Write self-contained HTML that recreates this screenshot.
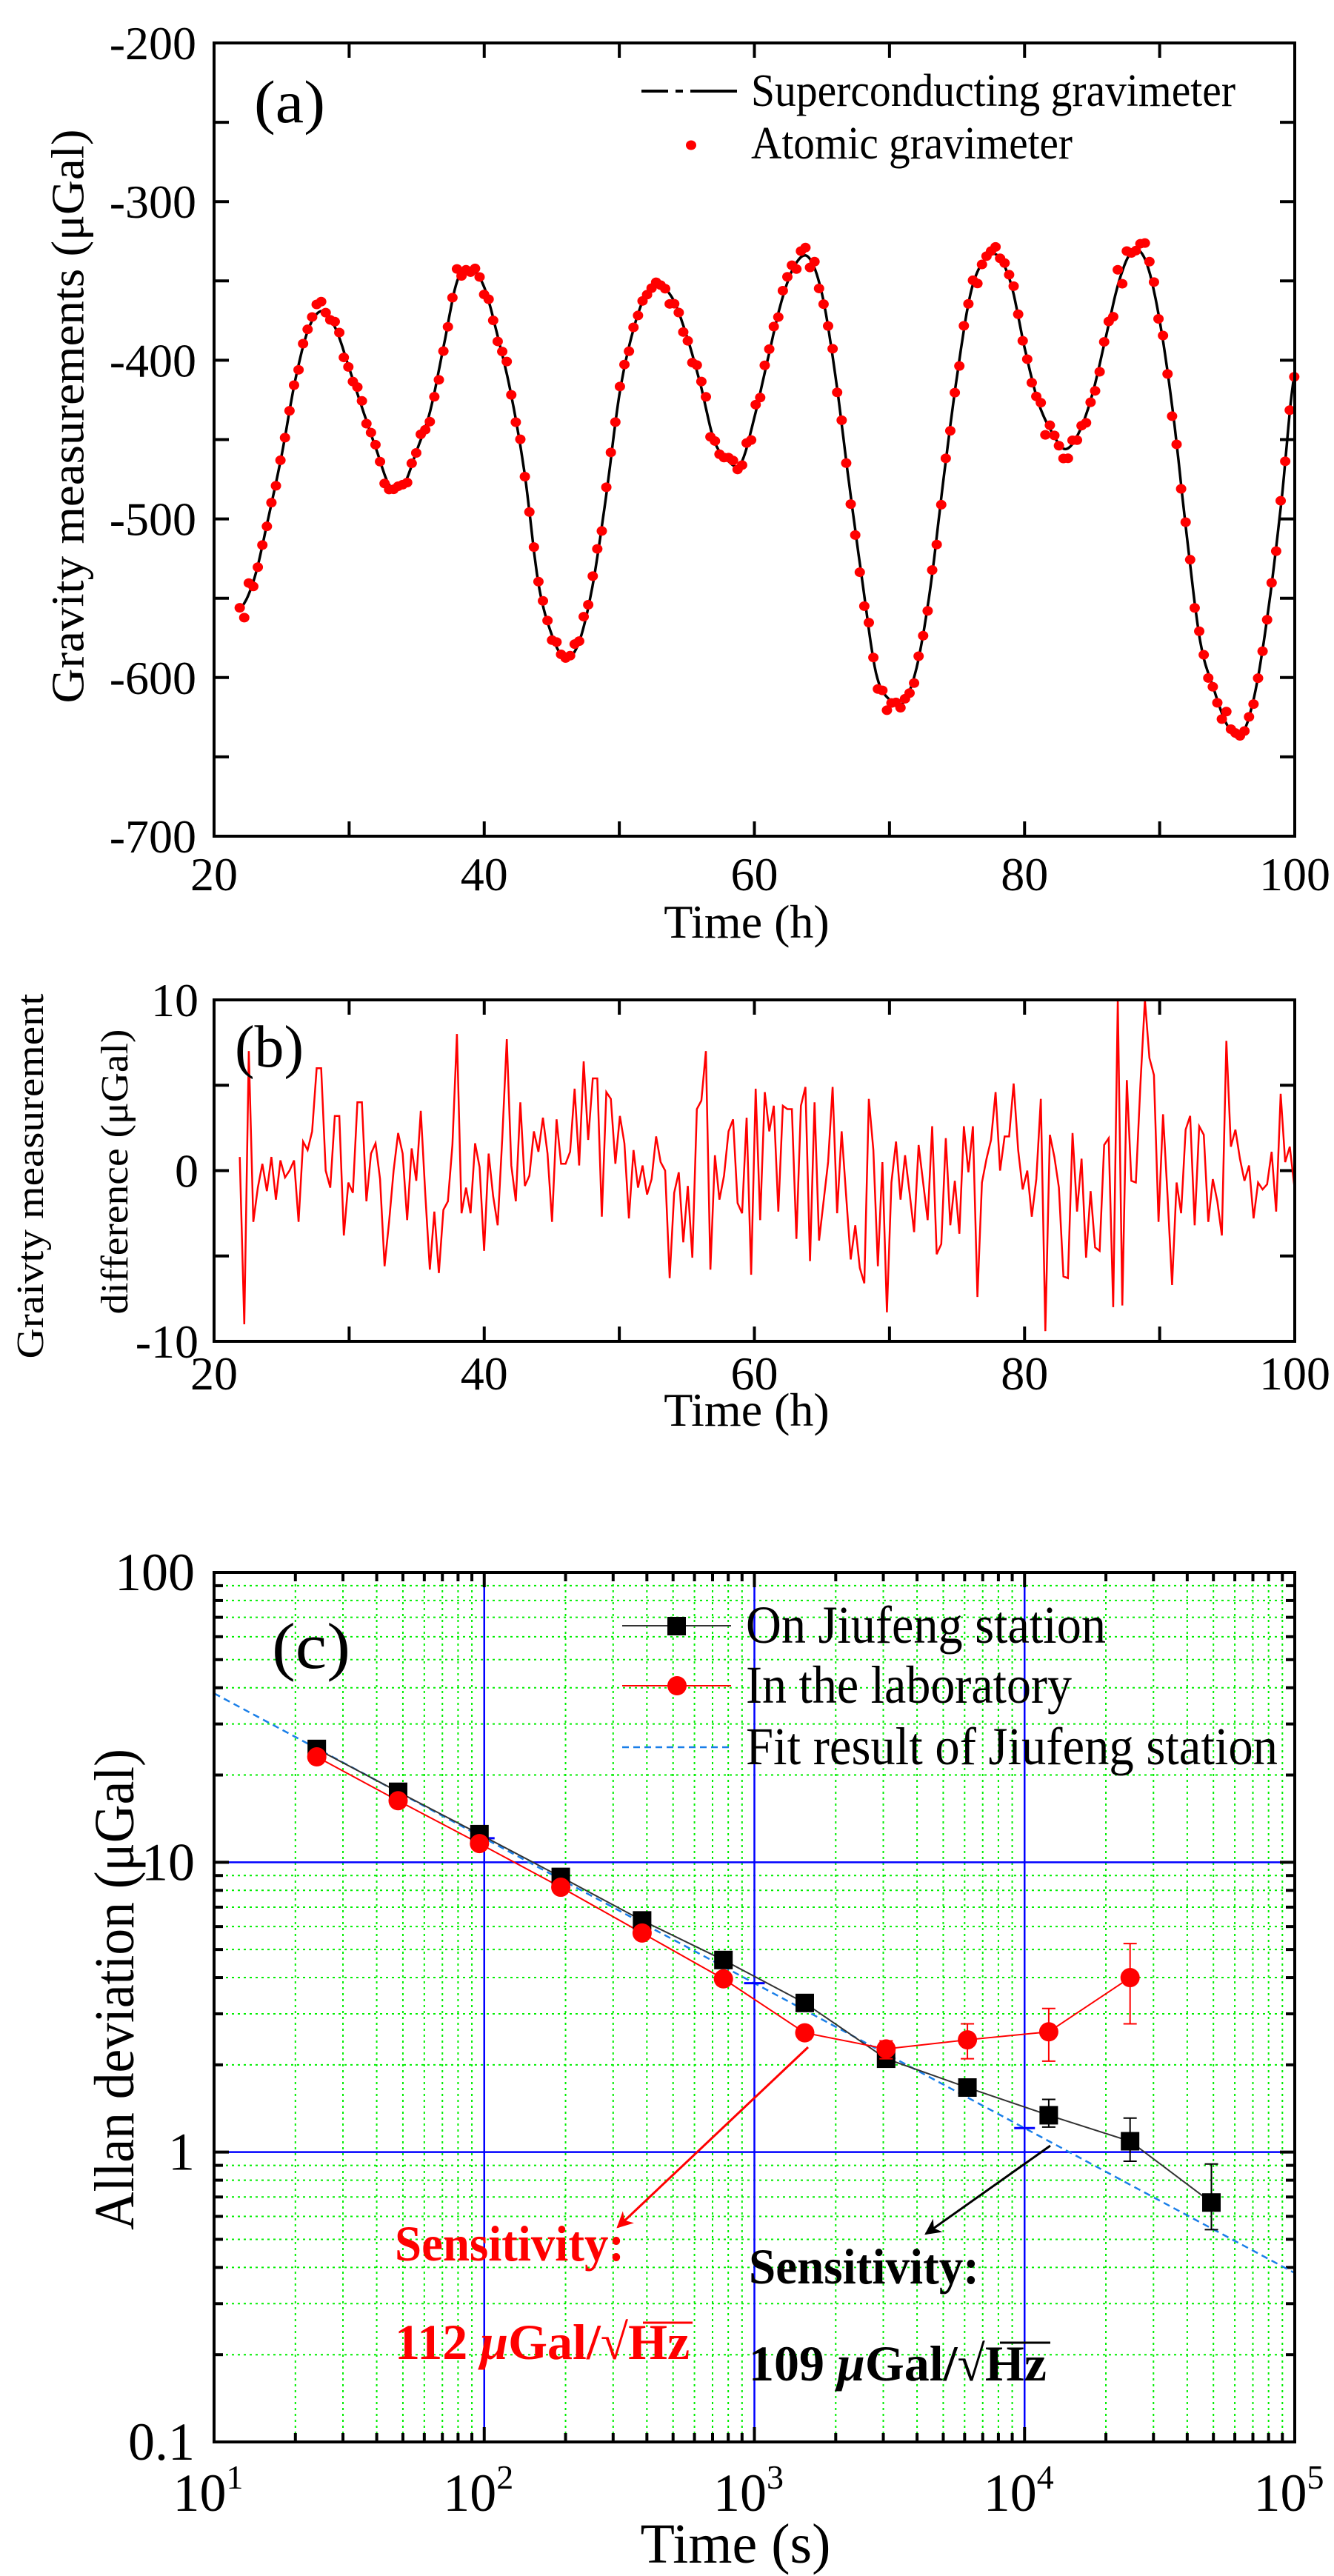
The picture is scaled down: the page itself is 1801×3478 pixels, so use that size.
<!DOCTYPE html>
<html><head><meta charset="utf-8"><style>
html,body{margin:0;padding:0;background:#fff}
svg{display:block}
text{font-family:"Liberation Serif",serif}
</style></head><body>
<svg id="fig" width="1801" height="3478" viewBox="0 0 1801 3478" xmlns="http://www.w3.org/2000/svg">
<rect width="1801" height="3478" fill="#fff"/>
<g id="pa"></g>
<g id="pb"></g>
<g id="pc"></g>
</svg>
<script>
// ---------- Panel (a) data ----------
const sgTimes=[22,23,24,25,26,27,28,29,30,31,32,33,34,35,36,37,38,39,40,41,42,43,44,45,46,47,48,49,50,51,52,53,54,55,56,57,58,59,60,61,62,63,64,65,66,67,68,69,70,71,72,73,74,75,76,77,78,79,80,81,82,83,84,85,86,87,88,89,90,91,92,93,94,95,96,97,98,99,100];
const sgValues=[-556,-537,-500,-460,-413,-380,-369,-380,-405,-431,-456,-479,-479,-457,-432,-391,-350,-342,-354,-385,-422,-472,-540,-573,-588,-578,-543,-487,-422,-382,-358,-353,-362,-385,-415,-450,-463,-465,-436,-399,-363,-340,-335,-358,-410,-477,-540,-597,-614,-616,-594,-545,-475,-410,-358,-337,-334,-352,-392,-426,-445,-456,-446,-422,-386,-350,-331,-338,-375,-434,-510,-577,-607,-630,-637,-612,-560,-490,-408];
const aYTicks=[-200,-300,-400,-500,-600,-700];
const xTicksH=[20,40,60,80,100];
// ---------- Panel (b) data: difference (atomic - SG) ----------
const diffValues=[0.8,-9,7,-3,-1,0.4,-1.2,0.8,-1.7,0.6,-0.4,0,0.6,-3,1.7,1.2,2.3,6,6,0,-1,3.2,3.2,-3.8,-0.7,-1.3,4,4,-1.8,1,1.6,-0.5,-5.6,-3,0,2.2,1,-2.9,1.3,-0.6,3.5,-1.4,-5.8,-2.4,-6,-2.3,-1.8,1.5,8,-2.5,-1,-2.5,1.6,0.2,-4.7,1,-1.5,-3.2,1.9,7.7,0.3,-1.8,4,-0.9,-0.3,2.3,1.1,3.1,1,-3,3,0.4,0.4,1.1,4.8,0.3,6.4,1.8,5.4,5.4,-2.7,4.6,4.2,0.4,3.2,1.6,-2.8,1.2,-1,0.3,-1.4,-0.5,2,0.5,0,-6.3,-1.3,-0.1,-4.2,-0.9,-5.1,3.6,4.1,7,-5.8,0.9,-1.7,-0.3,2.3,3,-1.9,-2.5,3.1,-6.1,4.8,-2.9,4.6,2.3,3.8,-2.4,3.8,3.6,3.6,-4,3.8,4.9,-5.3,4,-4.1,-1.8,0.5,4.9,-2.5,2.3,-1.5,-5.2,-3.2,-5.7,-6.6,4.2,1.2,-5.6,0.5,-8.3,-0.7,1.7,-1.7,0.9,-1.3,-3.6,1.5,-0.7,-2.9,2.6,-4.9,-4.3,1.9,-3.2,-0.6,-3.7,2.6,-0.1,2.6,-7.4,-0.7,0.7,1.8,4.6,0,2,2,5.1,1.2,-1.1,0,-2.7,-0.5,4.2,-9.4,2.1,0.8,-1,-6.2,-6.3,2.2,-2.4,0.7,-5.1,-1.2,-4.5,-4.7,1.5,1.9,-8,10,-7.9,5.3,-0.6,-0.7,5,10,6.6,5.6,-3,3.3,-1.5,-6.7,-0.7,-2.5,2.4,3.2,-3.2,2.6,2.1,-3,-0.5,-1.8,-3.8,7.6,1.4,2.4,0.7,-0.6,0.3,-2.8,-0.7,-1.1,-0.8,1.1,-2.4,4.5,0.5,1.4,-0.9,1.3];
const diffStart=21.9, diffEnd=100.3;
const bYTicks=[10,0,-10];
// ---------- Panel (c) data ----------
const tau=[24,48,96,192,384,768,1536,3072,6144,12288,24576,49152];
const jiufeng=[24.6,17.5,12.5,8.9,6.3,4.6,3.27,2.1,1.67,1.34,1.09,0.67];
const jiufengHi=[25.5,18.2,13,9.2,6.5,4.75,3.4,2.2,1.78,1.52,1.31,0.91];
const jiufengLo=[23.8,16.8,12,8.6,6.1,4.45,3.15,2.0,1.57,1.22,0.93,0.54];
const labTau=[24,48,96,192,384,768,1536,3072,6144,12288,24576];
const lab=[23.1,16.3,11.6,8.2,5.7,3.96,2.58,2.27,2.44,2.6,4.0];
const labHi=[24,17,12.1,8.6,6.0,4.1,2.7,2.42,2.77,3.13,5.24];
const labLo=[22.2,15.7,11.1,7.9,5.5,3.8,2.45,2.1,2.1,2.06,2.77];
const fitCoef=[121];
const fitExp=[-0.5];
const cYTicks=[100,10,1,0.1];
const cYTickLabels=["100","10","1","0.1"];
const cXExps=[1,2,3,4,5];

const NS="http://www.w3.org/2000/svg";
function mk(parent,tag,attrs,text){const e=document.createElementNS(NS,tag);for(const k in attrs)e.setAttribute(k,attrs[k]);if(text!==undefined)e.textContent=text;parent.appendChild(e);return e;}

// ================= Panel A =================
(function(){
const g=document.getElementById('pa');
const L=289,R=1748,T=58,B=1129;
const x=t=>L+(t-20)/80*(R-L);
const y=v=>T+(-200-v)/500*(B-T);
function sgAt(t){
  const h=t-sgTimes[0];let i=Math.floor(h);i=Math.max(0,Math.min(sgValues.length-2,i));const u=h-i;
  const p0=sgValues[Math.max(0,i-1)],p1=sgValues[i],p2=sgValues[i+1],p3=sgValues[Math.min(sgValues.length-1,i+2)];
  return 0.5*((2*p1)+(-p0+p2)*u+(2*p0-5*p1+4*p2-p3)*u*u+(-p0+3*p1-3*p2+p3)*u*u*u);
}
for(let v=-200;v>=-700;v-=50){
  const t=mk(g,'line',{x1:L,x2:L+20,y1:y(v),y2:y(v),stroke:'#000','stroke-width':4});
  
  const t2=mk(g,'line',{x1:R-20,x2:R,y1:y(v),y2:y(v),stroke:'#000','stroke-width':4});
  
}
for(let tt=20;tt<=100;tt+=10){
  const a=mk(g,'line',{x1:x(tt),x2:x(tt),y1:B,y2:B-20,stroke:'#000','stroke-width':4});
  
  const b=mk(g,'line',{x1:x(tt),x2:x(tt),y1:T,y2:T+20,stroke:'#000','stroke-width':4});
  
}
aYTicks.forEach(v=>{const e=mk(g,'text',{x:265,y:y(v)+22,'font-size':64,'text-anchor':'end'},String(v));
  });
xTicksH.forEach(v=>{const e=mk(g,'text',{x:x(v),y:1202,'font-size':64,'text-anchor':'middle'},v);
  });
let d='';for(let t=22;t<=100.001;t+=0.1){d+=(d?'L':'M')+x(t).toFixed(1)+','+y(sgAt(t)).toFixed(1);}
const ln=mk(g,'path',{d:d,fill:'none',stroke:'#000','stroke-width':3.5});

const n=diffValues.length;
diffValues.forEach((dv,i)=>{const t=diffStart+(diffEnd-diffStart)*i/(n-1);if(t>100.2)return;
  const c=mk(g,'ellipse',{cx:x(t),cy:y(sgAt(Math.min(t,100))+dv),rx:7,ry:6.5,fill:'#f00'});
  });
const fr=mk(g,'rect',{x:L,y:T,width:R-L,height:B-T,fill:'none',stroke:'#000','stroke-width':4});

let e;
e=mk(g,'text',{x:92,y:(175+950)/2,'font-size':62,'text-anchor':'middle',transform:'rotate(-90 92 562)',dy:20,textLength:775,lengthAdjust:'spacingAndGlyphs'},'Gravity measurements (μGal)');

e=mk(g,'text',{x:1008,y:1266,'font-size':64,'text-anchor':'middle'},'Time (h)');

e=mk(g,'text',{x:343,y:165,'font-size':82,textLength:96,lengthAdjust:'spacingAndGlyphs'},'(a)');

e=mk(g,'path',{d:'M866,123 H902 M912,123 H922 M932,123 H995',stroke:'#000','stroke-width':4});

e=mk(g,'text',{x:1014,y:143,'font-size':62,textLength:654,lengthAdjust:'spacingAndGlyphs'},'Superconducting gravimeter');

e=mk(g,'ellipse',{cx:933,cy:196,rx:7,ry:6.5,fill:'#f00'});

e=mk(g,'text',{x:1014,y:214,'font-size':62,textLength:434,lengthAdjust:'spacingAndGlyphs'},'Atomic gravimeter');

})();

// ================= Panel B =================
(function(){
const g=document.getElementById('pb');
const L=289,R=1748,T=1350,B=1811;
const x=t=>L+(t-20)/80*(R-L);
const y=v=>T+(10-v)/20*(B-T);
let e;
mk(g,'clipPath',{id:'clipb'}).appendChild((()=>{const r=document.createElementNS(NS,'rect');r.setAttribute('x',L);r.setAttribute('y',T);r.setAttribute('width',R-L);r.setAttribute('height',B-T);return r;})());
for(let v=10;v>=-10;v-=5){
  e=mk(g,'line',{x1:L,x2:L+20,y1:y(v),y2:y(v),stroke:'#000','stroke-width':4});
  
  e=mk(g,'line',{x1:R-20,x2:R,y1:y(v),y2:y(v),stroke:'#000','stroke-width':4});
  
}
for(let tt=20;tt<=100;tt+=10){
  e=mk(g,'line',{x1:x(tt),x2:x(tt),y1:B,y2:B-20,stroke:'#000','stroke-width':4});
  
  e=mk(g,'line',{x1:x(tt),x2:x(tt),y1:T,y2:T+20,stroke:'#000','stroke-width':4});
  
}
bYTicks.forEach(v=>{e=mk(g,'text',{x:268,y:y(v)+22,'font-size':64,'text-anchor':'end'},v);
  });
xTicksH.forEach(v=>{e=mk(g,'text',{x:x(v),y:1876,'font-size':64,'text-anchor':'middle'},v);
  });
const n=diffValues.length;let d='';
diffValues.forEach((dv,i)=>{const t=diffStart+(diffEnd-diffStart)*i/(n-1);d+=(i?'L':'M')+x(t).toFixed(1)+','+y(dv).toFixed(1);});
e=mk(g,'path',{d:d,fill:'none',stroke:'#f00','stroke-width':2.5,'clip-path':'url(#clipb)'});

e=mk(g,'rect',{x:L,y:T,width:R-L,height:B-T,fill:'none',stroke:'#000','stroke-width':4});

e=mk(g,'text',{x:0,y:0,'font-size':52,'text-anchor':'middle',transform:'translate(58 1588) rotate(-90)',textLength:493,lengthAdjust:'spacingAndGlyphs'},'Graivty measurement');

e=mk(g,'text',{x:0,y:0,'font-size':52,'text-anchor':'middle',transform:'translate(172 1582) rotate(-90)',textLength:385,lengthAdjust:'spacingAndGlyphs'},'difference (μGal)');

e=mk(g,'text',{x:1008,y:1925,'font-size':64,'text-anchor':'middle'},'Time (h)');

e=mk(g,'text',{x:317,y:1440,'font-size':80,textLength:93,lengthAdjust:'spacingAndGlyphs'},'(b)');

})();

// ================= Panel C =================
(function(){
const g=document.getElementById('pc');
const L=289,R=1748,T=2123,B=3297;
const x=v=>L+(Math.log10(v)-1)/4*(R-L);
const y=v=>B-(Math.log10(v)+1)/3*(B-T);
let e;
for(let dec=1;dec<5;dec++)for(let m=2;m<=9;m++){const xv=x(m*Math.pow(10,dec));
  e=mk(g,'line',{x1:xv,x2:xv,y1:T,y2:B,stroke:'#0e0','stroke-width':2,'stroke-dasharray':'3,5'});
  }
for(let dec=-1;dec<2;dec++)for(let m=2;m<=9;m++){const yv=y(m*Math.pow(10,dec));
  e=mk(g,'line',{x1:L,x2:R,y1:yv,y2:yv,stroke:'#0e0','stroke-width':2,'stroke-dasharray':'3,5'});
  }
[100,1000,10000].forEach(v=>{e=mk(g,'line',{x1:x(v),x2:x(v),y1:T,y2:B,stroke:'#00f','stroke-width':2.5});
  });
[10,1].forEach(v=>{e=mk(g,'line',{x1:L,x2:R,y1:y(v),y2:y(v),stroke:'#00f','stroke-width':2.5});
  });
for(let dec=1;dec<5;dec++)for(let m=1;m<=9;m++){const xv=x(m*Math.pow(10,dec));const len=m==1?20:12;
  e=mk(g,'line',{x1:xv,x2:xv,y1:B,y2:B-len,stroke:'#000','stroke-width':4});
  e=mk(g,'line',{x1:xv,x2:xv,y1:T,y2:T+len,stroke:'#000','stroke-width':4});}
for(let dec=-1;dec<2;dec++)for(let m=1;m<=9;m++){const yv=y(m*Math.pow(10,dec));const len=m==1?20:12;
  e=mk(g,'line',{x1:L,x2:L+len,y1:yv,y2:yv,stroke:'#000','stroke-width':4});
  e=mk(g,'line',{x1:R-len,x2:R,y1:yv,y2:yv,stroke:'#000','stroke-width':4});}
cYTicks.forEach((v,i)=>{e=mk(g,'text',{x:263,y:y(v)+24,'font-size':72,'text-anchor':'end'},cYTickLabels[i]);
  });
cXExps.forEach(p=>{e=mk(g,'text',{x:x(Math.pow(10,p))-8,y:3390,'font-size':72,'text-anchor':'middle'});
  
  mk(e,'tspan',{},'10');mk(e,'tspan',{dy:-30,'font-size':46},String(p));});
const fx=[10,100000];let d='';fx.forEach((v,i)=>{d+=(i?'L':'M')+x(v)+','+y(fitCoef[0]*Math.pow(v,fitExp[0]));});
e=mk(g,'path',{d:d,stroke:'#1a7fe8','stroke-width':2.5,'stroke-dasharray':'9,6',fill:'none'});

[100,1000,10000].forEach(v=>{const yy=y(fitCoef[0]*Math.pow(v,fitExp[0]));e=mk(g,'line',{x1:x(v)-14,x2:x(v)+14,y1:yy,y2:yy,stroke:'#00f','stroke-width':3});
  });
d='';tau.forEach((t,i)=>{d+=(i?'L':'M')+x(t)+','+y(jiufeng[i]);});
e=mk(g,'path',{d:d,stroke:'#333','stroke-width':2,fill:'none'});
d='';labTau.forEach((t,i)=>{d+=(i?'L':'M')+x(t)+','+y(lab[i]);});
e=mk(g,'path',{d:d,stroke:'#f00','stroke-width':2,fill:'none'});
tau.forEach((t,i)=>{const xv=x(t);
  e=mk(g,'path',{d:`M${xv},${y(jiufengHi[i])}V${y(jiufengLo[i])}M${xv-9},${y(jiufengHi[i])}h18M${xv-9},${y(jiufengLo[i])}h18`,stroke:'#000','stroke-width':2,fill:'none'});
  
  e=mk(g,'rect',{x:xv-12.5,y:y(jiufeng[i])-12.5,width:25,height:25,fill:'#000'});
  });
labTau.forEach((t,i)=>{const xv=x(t);
  e=mk(g,'path',{d:`M${xv},${y(labHi[i])}V${y(labLo[i])}M${xv-9},${y(labHi[i])}h18M${xv-9},${y(labLo[i])}h18`,stroke:'#f00','stroke-width':2,fill:'none'});
  
  e=mk(g,'circle',{cx:xv,cy:y(lab[i]),r:13,fill:'#f00'});
  });
e=mk(g,'rect',{x:L,y:T,width:R-L,height:B-T,fill:'none',stroke:'#000','stroke-width':4});

e=mk(g,'line',{x1:840,x2:987,y1:2195,y2:2195,stroke:'#333','stroke-width':2});
e=mk(g,'rect',{x:901,y:2183,width:25,height:25,fill:'#000'});
e=mk(g,'text',{x:1007,y:2218,'font-size':72,textLength:486,lengthAdjust:'spacingAndGlyphs'},'On Jiufeng station');
e=mk(g,'line',{x1:840,x2:987,y1:2276,y2:2276,stroke:'#f00','stroke-width':2});
e=mk(g,'circle',{cx:914,cy:2276,r:13,fill:'#f00'});
e=mk(g,'text',{x:1007,y:2299,'font-size':72,textLength:440,lengthAdjust:'spacingAndGlyphs'},'In the laboratory');
e=mk(g,'line',{x1:840,x2:987,y1:2359,y2:2359,stroke:'#1a7fe8','stroke-width':2.5,'stroke-dasharray':'9,6'});
e=mk(g,'text',{x:1007,y:2382,'font-size':72,textLength:718,lengthAdjust:'spacingAndGlyphs'},'Fit result of Jiufeng station');
e=mk(g,'text',{x:367,y:2252,'font-size':88,textLength:106,lengthAdjust:'spacingAndGlyphs'},'(c)');
e=mk(g,'text',{x:0,y:0,'font-size':76,'text-anchor':'middle',transform:'translate(180 2686) rotate(-90)',textLength:650,lengthAdjust:'spacingAndGlyphs'},'Allan deviation (μGal)');
e=mk(g,'text',{x:993,y:3460,'font-size':76,'text-anchor':'middle'},'Time (s)');
mk(g,'defs',{}).innerHTML='<marker id="arr" viewBox="0 0 10 10" markerWidth="22" markerHeight="22" refX="9" refY="5" orient="auto" markerUnits="userSpaceOnUse"><path d="M0,0 L10,5 L0,10 L3,5 z" fill="#f00"/></marker><marker id="ark" viewBox="0 0 10 10" markerWidth="22" markerHeight="22" refX="9" refY="5" orient="auto" markerUnits="userSpaceOnUse"><path d="M0,0 L10,5 L0,10 L3,5 z" fill="#000"/></marker>';
e=mk(g,'line',{x1:1091,y1:2764,x2:834,y2:3007,stroke:'#f00','stroke-width':3,'marker-end':'url(#arr)'});
e=mk(g,'line',{x1:1418,y1:2897,x2:1250,y2:3016,stroke:'#000','stroke-width':3,'marker-end':'url(#ark)'});
e=mk(g,'text',{x:533,y:3052,'font-size':68,'font-weight':'bold',fill:'#f00',textLength:310,lengthAdjust:'spacingAndGlyphs'},'Sensitivity:');
e=mk(g,'text',{x:533,y:3185,'font-size':68,'font-weight':'bold',fill:'#f00'});
mk(e,'tspan',{},'112  ');mk(e,'tspan',{'font-style':'italic'},'μ');mk(e,'tspan',{},'Gal/√');mk(e,'tspan',{},'Hz');
e=mk(g,'line',{x1:868,y1:3136,x2:935,y2:3136,stroke:'#f00','stroke-width':3});
e=mk(g,'text',{x:1011,y:3083,'font-size':68,'font-weight':'bold',fill:'#000',textLength:311,lengthAdjust:'spacingAndGlyphs'},'Sensitivity:');
e=mk(g,'text',{x:1011,y:3214,'font-size':68,'font-weight':'bold',fill:'#000'});
mk(e,'tspan',{},'109  ');mk(e,'tspan',{'font-style':'italic'},'μ');mk(e,'tspan',{},'Gal/√');mk(e,'tspan',{},'Hz');
e=mk(g,'line',{x1:1350,y1:3163,x2:1418,y2:3163,stroke:'#000','stroke-width':3});
})();
</script>
</body></html>
